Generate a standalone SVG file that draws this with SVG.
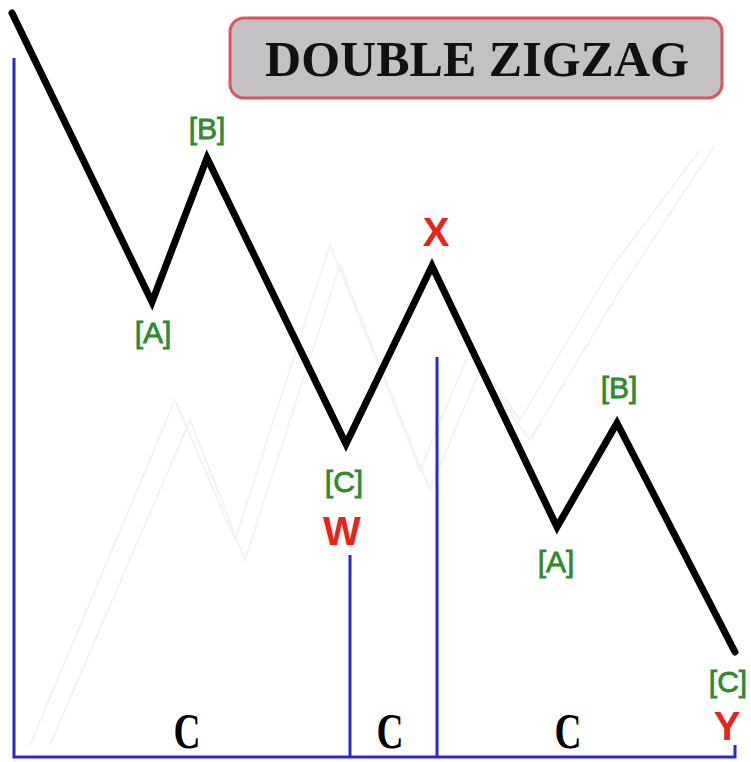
<svg xmlns="http://www.w3.org/2000/svg" width="751" height="762" viewBox="0 0 751 762">
<style>
.wave{fill:none;stroke:#000;stroke-width:7;stroke-linejoin:miter;stroke-linecap:round}
.blue{fill:none;stroke:#2a2ad0;stroke-width:3}
.faint{fill:none;stroke:#f3f3f3;stroke-width:2}
.g{font-family:"Liberation Sans",Arial,sans-serif;font-size:30px;fill:#2e8b2e;stroke:#2e8b2e;stroke-width:0.8;text-anchor:middle}
.r{font-family:"Liberation Sans",Arial,sans-serif;font-size:40px;font-weight:bold;fill:#e8221c;text-anchor:middle}
.c{font-family:"Liberation Serif","DejaVu Serif",serif;font-size:50px;font-weight:bold;fill:#000;text-anchor:middle}
.t{font-family:"Liberation Serif","DejaVu Serif",serif;font-size:50px;font-weight:bold;fill:#111;text-anchor:middle}
</style>
<rect width="751" height="762" fill="#fff"/>
<g id="watermark">
<polyline class="faint" points="30,745 175,400 235,540 330,245 420,470 470,350 520,420 610,270 700,150"/>
<polyline class="faint" points="50,745 190,420 245,560 340,265 430,490 480,370 530,440 620,290 715,145"/>
</g>
<g id="title">
<rect x="230" y="18" width="492" height="80" rx="14" fill="#c3c1c3" stroke="#d9565a" stroke-width="3"/>
<text class="t" x="477" y="76" textLength="424" lengthAdjust="spacingAndGlyphs">DOUBLE ZIGZAG</text>
</g>
<g id="connectors">
<polyline class="wave" points="12,13 152,302 207,158 346,444 432,266 557,527 617,423 735,652"/>
<polyline class="blue" points="14,58 14,757 735,757 735,745"/>
<line class="blue" x1="350" y1="555" x2="350" y2="757"/>
<line class="blue" x1="437" y1="357" x2="437" y2="757"/>
</g>
<g id="A1"><text class="g" x="153" y="343">[A]</text></g>
<g id="B1"><text class="g" x="207" y="139">[B]</text></g>
<g id="C1"><text class="g" x="344" y="492">[C]</text></g>
<g id="W"><text class="r" x="342" y="545">W</text></g>
<g id="X"><text class="r" x="436" y="246">X</text></g>
<g id="A2"><text class="g" x="556" y="572">[A]</text></g>
<g id="B2"><text class="g" x="619" y="398">[B]</text></g>
<g id="C2"><text class="g" x="728" y="692">[C]</text></g>
<g id="Y"><text class="r" x="727" y="740">Y</text></g>
<g id="labels">
<text class="c" x="187" y="748" textLength="27" lengthAdjust="spacingAndGlyphs">C</text>
<text class="c" x="390" y="748" textLength="27" lengthAdjust="spacingAndGlyphs">C</text>
<text class="c" x="568" y="748" textLength="27" lengthAdjust="spacingAndGlyphs">C</text>
</g>
</svg>
